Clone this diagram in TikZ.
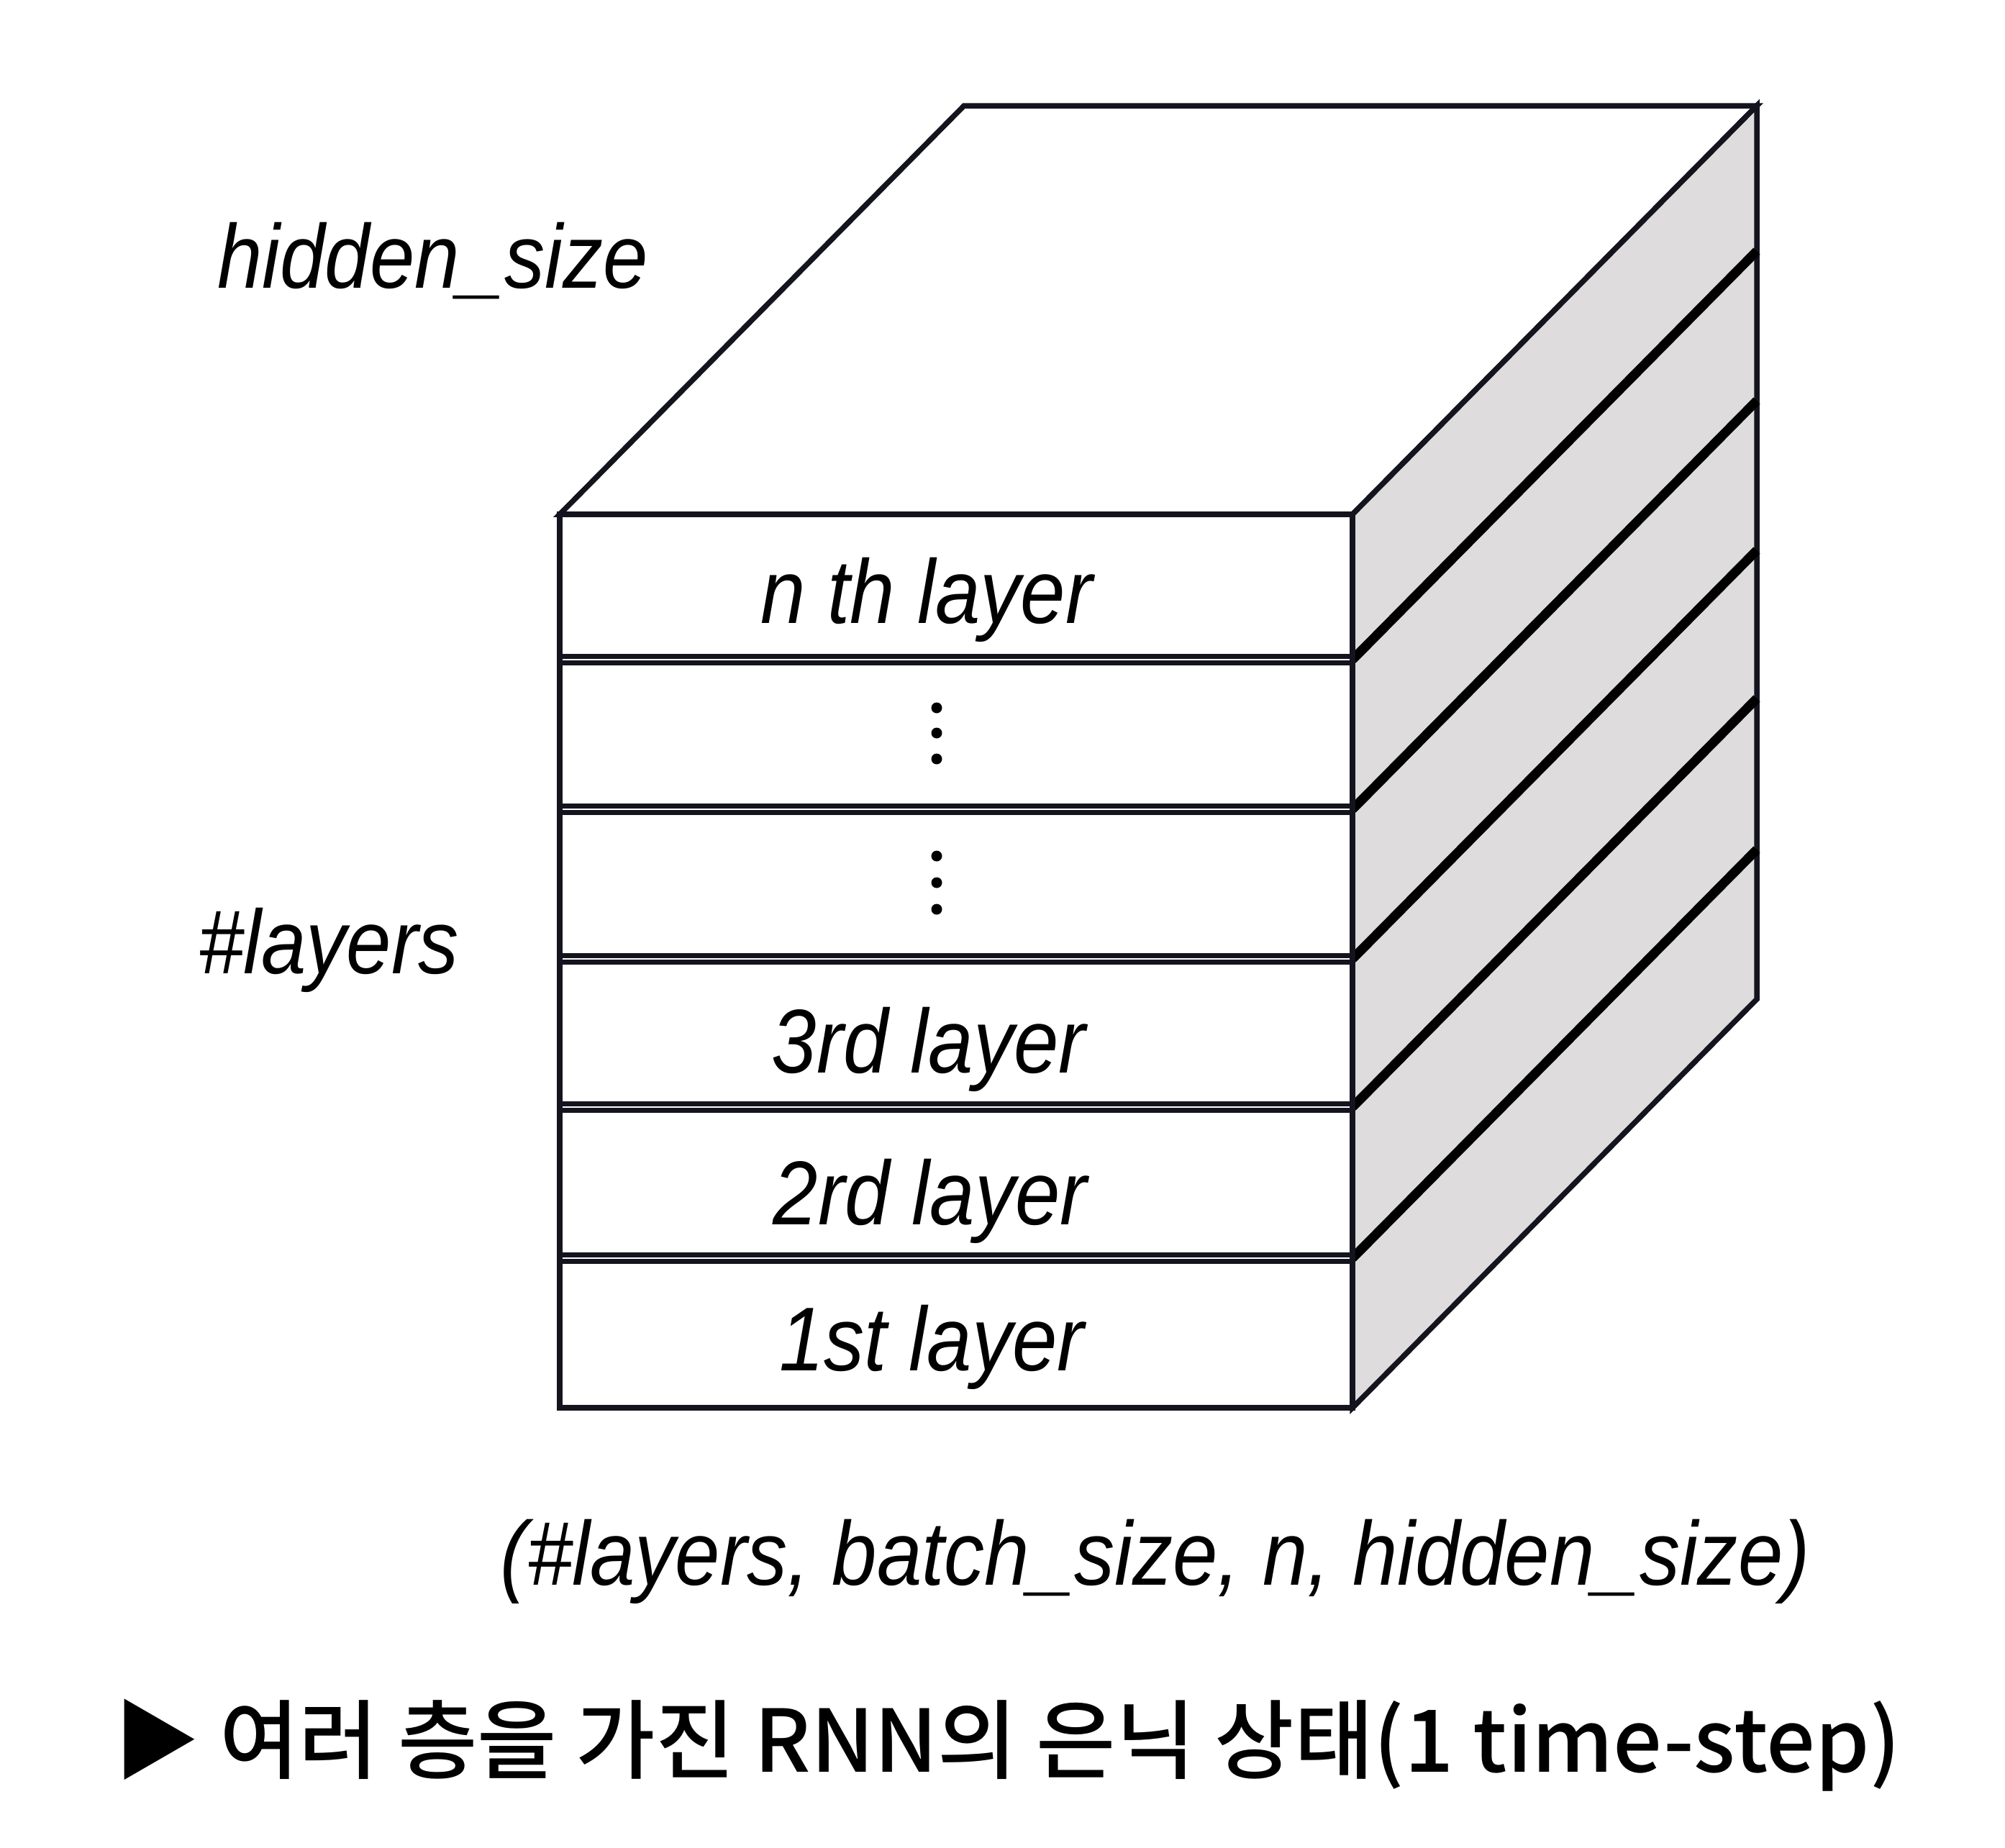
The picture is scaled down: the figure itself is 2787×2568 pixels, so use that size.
\documentclass[tikz,border=0pt]{standalone}
\usepackage{fontspec}
\newfontfamily\labfont{Liberation Sans}[FakeStretch=0.89]
\newfontfamily\krfont{Noto Sans CJK KR Medium}
\definecolor{sidegray}{RGB}{222,220,220}
\definecolor{edge}{RGB}{20,20,30}
\tikzset{
  lab/.style={inner sep=0pt, font=\labfont\itshape\fontsize{126}{150}\selectfont},
  caption/.style={inner sep=0pt, font=\krfont\fontsize{120}{140}\selectfont},
  outline/.style={draw=edge, line width=7.5pt, line join=miter},
  divider/.style={draw=edge, line width=6.5pt},
  stripe/.style={draw=black, line width=13pt},
  dotmark/.style={fill=black}
}
\begin{document}
\begin{tikzpicture}[x=1pt,y=-1pt]
\useasboundingbox (0,0) rectangle (2787,2568);
\fill[white] (0,0) rectangle (2787,2568);
% top face
\path[outline, fill=white] (778,715) -- (1340,147) -- (2442,147) -- (1880,715) -- cycle;
% right face
\path[outline, fill=sidegray] (1880,715) -- (2442,147) -- (2442,1389) -- (1880,1957) -- cycle;
% stripes on the right face
\foreach \y in {917,1125,1333,1539,1749}{
  \draw[stripe] (1880,\y) -- (2442,\y-568);
}
% front face
\path[outline, fill=white] (778,715) rectangle (1880,1957);
\foreach \y in {917,1125,1333,1539,1749}{
  \draw[divider] (778,\y-4.5) -- (1880,\y-4.5);
  \draw[divider] (778,\y+4.5) -- (1880,\y+4.5);
}
\path[outline] (778,715) rectangle (1880,1957);
% layer labels
\node[lab, anchor=base] (ln) at (1288,866) {n th layer};
\node[lab, anchor=base] (l3) at (1291,1491) {3rd layer};
\node[lab, anchor=base] (l2) at (1293,1702) {2rd layer};
\node[lab, anchor=base] (l1) at (1295,1905) {1st layer};
% dots
\foreach \y in {984,1019,1055,1190,1227,1264}{
  \fill[dotmark] (1302,\y) circle (7.5pt);
}
% side labels
\node[lab, anchor=base west] (hs) at (302,400) {hidden\_size};
\node[lab, anchor=base west] (nl) at (276,1353) {\#layers};
\node[lab, anchor=base] (tp) at (1606,2203) {(\#layers, batch\_size, n, hidden\_size)};
% caption
\node[caption, anchor=base west] (cap) at (158,2463) {▶ 여러 층을 가진 RNN의 은닉 상태(1 time-step)};
\end{tikzpicture}
\end{document}
